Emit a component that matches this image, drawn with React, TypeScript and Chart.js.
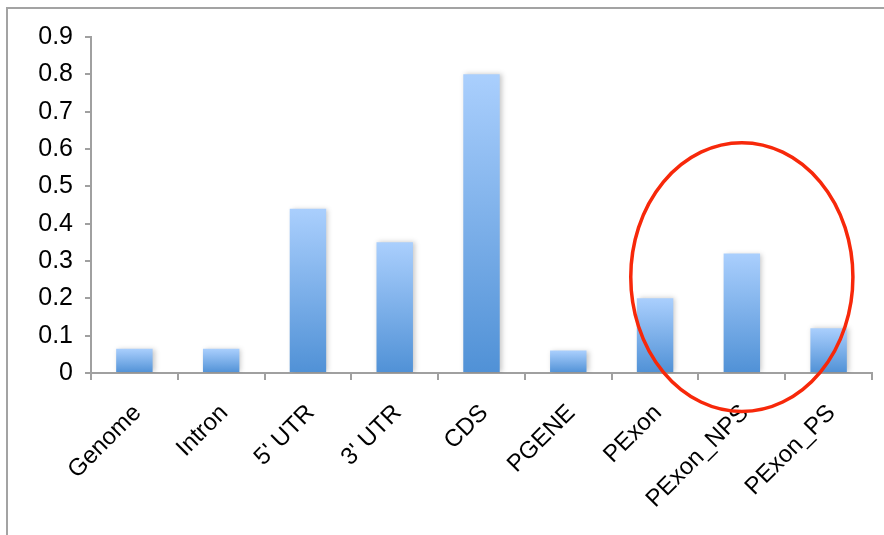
import React, { useEffect, useRef } from "react";
import { Chart, registerables } from "chart.js";

Chart.register(...registerables);

const categories = ["Genome", "Intron", "5' UTR", "3' UTR", "CDS", "PGENE", "PExon", "PExon_NPS", "PExon_PS"];
const values = [0.065, 0.065, 0.44, 0.35, 0.8, 0.06, 0.2, 0.32, 0.12];
const yTicks = [0, 0.1, 0.2, 0.3, 0.4, 0.5, 0.6, 0.7, 0.8, 0.9];
// highlighted ellipse: centred on a category, spanning a value range
const circleCenterIndex = 7;
const circleCenterValue = 0.257;
const circleHalfWidthCats = 1.28;
const circleHalfHeightValue = 0.36;

const FONT = "'Liberation Sans', Arial, sans-serif";

export default function App() {
  const ref = useRef<HTMLCanvasElement>(null);
  useEffect(() => {
    const canvas = ref.current!;
    const shadowPlugin = {
      id: "barShadow",
      beforeDatasetsDraw(chart: any) {
        const c = chart.ctx;
        c.save();
        c.shadowColor = "rgba(0,0,0,0.22)";
        c.shadowBlur = 5;
        c.shadowOffsetX = 2;
        c.shadowOffsetY = 0;
      },
      afterDatasetsDraw(chart: any) {
        chart.ctx.restore();
      },
    };
    const ellipsePlugin = {
      id: "ellipse",
      afterDraw(chart: any) {
        const x = chart.scales.x;
        const y = chart.scales.y;
        const c = chart.ctx;
        const cx = x.getPixelForValue(circleCenterIndex);
        const catW = x.getPixelForValue(circleCenterIndex + 1) - cx;
        const cy = y.getPixelForValue(circleCenterValue);
        const rx = catW * circleHalfWidthCats;
        const ry = Math.abs(y.getPixelForValue(circleCenterValue + circleHalfHeightValue) - cy);
        c.save();
        c.beginPath();
        c.ellipse(cx, cy, rx, ry, 0, 0, Math.PI * 2);
        c.strokeStyle = "#f7280a";
        c.lineWidth = 3.5;
        c.stroke();
        c.restore();
      },
    };
    const chart = new Chart(canvas, {
      type: "bar",
      data: {
        labels: categories,
        datasets: [
          {
            data: values,
            barPercentage: 0.42,
            categoryPercentage: 1,
            backgroundColor: (ctx: any) => {
              const ch = ctx.chart;
              const ys = ch.scales && ch.scales.y;
              if (!ch.chartArea || !ys || ctx.raw == null) return "#7aaee8";
              const top = ys.getPixelForValue(ctx.raw);
              const bot = ys.getPixelForValue(0);
              if (!isFinite(top) || !isFinite(bot) || top === bot) return "#7aaee8";
              const g = ch.ctx.createLinearGradient(0, top, 0, bot);
              g.addColorStop(0, "#aacffd");
              g.addColorStop(1, "#5091d6");
              return g;
            },
            borderWidth: 0,
          },
        ],
      },
      options: {
        animation: false,
        responsive: false,
        maintainAspectRatio: false,
        layout: { padding: { top: 28, right: 12, left: 0, bottom: 0 } },
        plugins: { legend: { display: false }, tooltip: { enabled: false }, title: { display: false } },
        scales: {
          x: {
            grid: { drawOnChartArea: false, color: "#a0a0a0", lineWidth: 2, tickLength: 7, offset: true },
            border: { color: "#a0a0a0", width: 2 },
            ticks: {
              color: "#000",
              font: { family: FONT, size: 24 },
              minRotation: 45,
              maxRotation: 45,
              labelOffset: 3,
              padding: 19,
              autoSkip: false,
            },
            afterFit: (s: any) => {
              s.height = 162;
            },
          },
          y: {
            min: 0,
            max: 0.9,
            afterBuildTicks: (s: any) => {
              s.ticks = yTicks.map((v) => ({ value: v }));
            },
            grid: { drawOnChartArea: false, color: "#a0a0a0", lineWidth: 2, tickLength: 6 },
            border: { color: "#a0a0a0", width: 2 },
            ticks: {
              color: "#000",
              font: { family: FONT, size: 25 },
              padding: 12,
              callback: (v: any) => String(Math.round(Number(v) * 10) / 10),
            },
            afterFit: (s: any) => {
              s.width = 83;
            },
          },
        },
      },
      plugins: [shadowPlugin, ellipsePlugin],
    });
    return () => chart.destroy();
  }, []);
  return (
    <div
      style={{
        position: "absolute",
        left: 6,
        top: 7,
        width: 878,
        height: 528,
        borderLeft: "2px solid #a3a3a3",
        borderTop: "2px solid #a3a3a3",
        boxSizing: "border-box",
        overflow: "hidden",
        background: "#fff",
      }}
    >
      <canvas ref={ref} width={876} height={526} style={{ display: "block", width: 876, height: 526 }} />
    </div>
  );
}
